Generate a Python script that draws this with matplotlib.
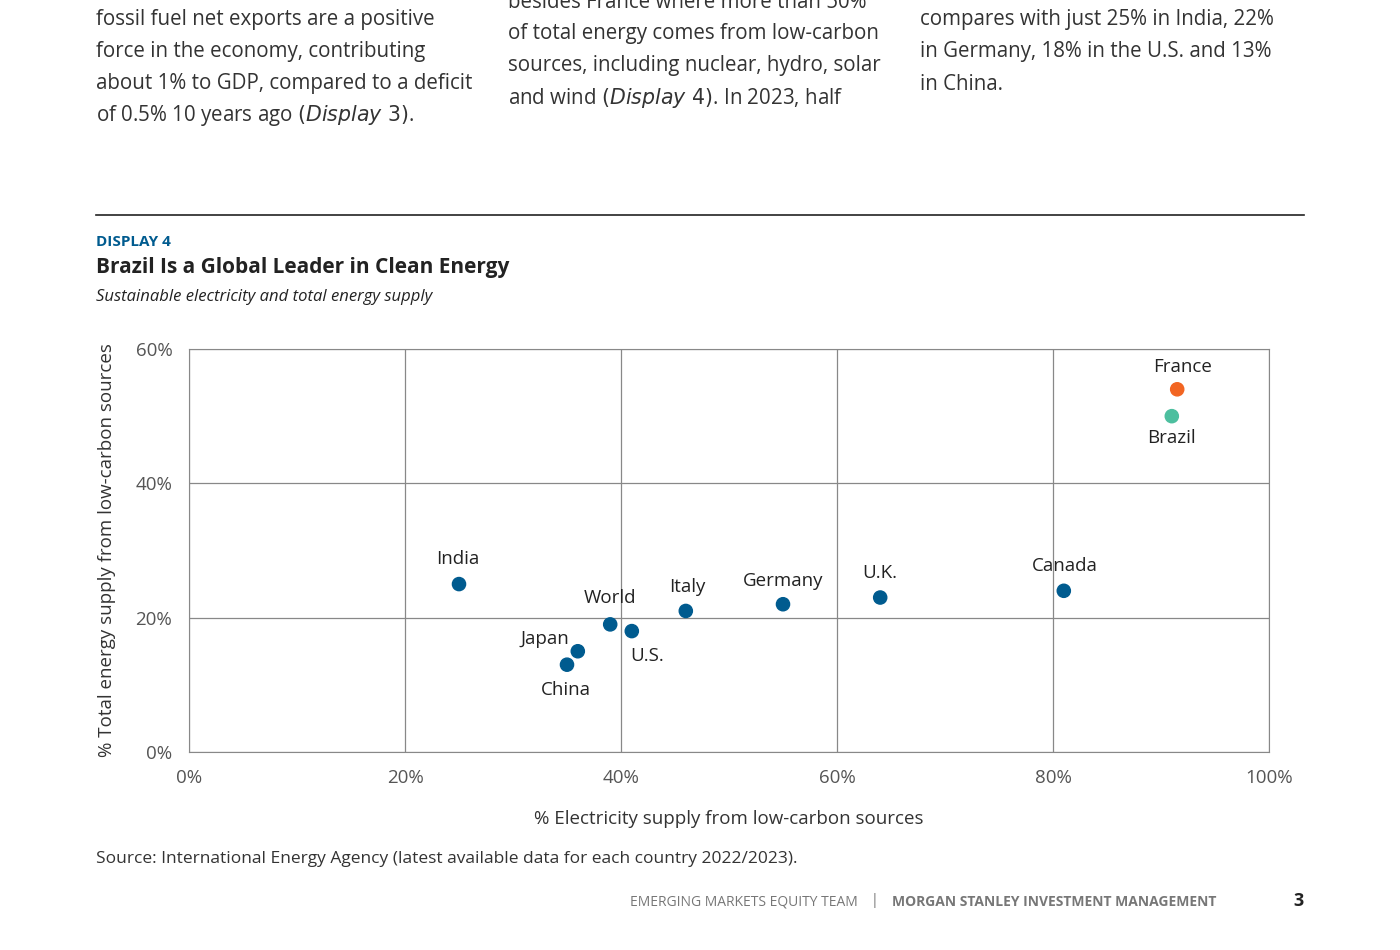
import matplotlib
matplotlib.use('Agg')
from matplotlib import pyplot as plt

plt.rcParams['font.family'] = ['Open Sans', 'DejaVu Sans']

countries = ['India', 'Japan', 'China', 'World', 'U.S.', 'Italy', 'Germany', 'U.K.', 'Canada', 'France', 'Brazil']
electricity = [25, 36, 35, 39, 41, 46, 55, 64, 81, 91.5, 91]
energy = [25, 15, 13, 19, 18, 21, 22, 23, 24, 54, 50]
colors = ['#005b8f'] * 9 + ['#f26522', '#4dbf9f']
# label offsets in points (dx, dy)
offsets = {'India': (-1, 18), 'Japan': (-24, 9), 'China': (-1, -18), 'World': (0, 19),
           'U.S.': (11, -18), 'Italy': (1, 17), 'Germany': (0, 17), 'U.K.': (0, 18),
           'Canada': (1, 18), 'France': (4, 16), 'Brazil': (0, -16)}

fig = plt.figure(figsize=(14, 9.5), dpi=100)
fx = lambda px: px / 1400
fy = lambda py: 1 - py / 950

# body text columns
cols = [(96, ['fossil fuel net exports are a positive', 'force in the economy, contributing',
              'about 1% to GDP, compared to a deficit', 'of 0.5% 10 years ago $\\it{(Display\\ 3)}$.'], 20),
        (508, ['besides France where more than 50%', 'of total energy comes from low-carbon',
               'sources, including nuclear, hydro, solar', 'and wind $\\it{(Display\\ 4)}$. In 2023, half'], 2),
        (920, ['compares with just 25% in India, 22%', 'in Germany, 18% in the U.S. and 13%', 'in China.'], 20)]
for x, lines, y0 in cols:
    for i, line in enumerate(lines):
        fig.text(fx(x), fy(y0 + 32 * i), line, fontsize=14.8, color='#333333', va='center')

fig.add_artist(plt.Line2D([fx(96), fx(1304)], [fy(215), fy(215)], color='#222222', lw=1.2))
fig.text(fx(96), fy(242), 'DISPLAY 4', fontsize=11, color='#005b8f', fontweight='bold', va='center')
fig.text(fx(96), fy(268), 'Brazil Is a Global Leader in Clean Energy', fontsize=15, fontweight='bold', color='#222222', va='center')
fig.text(fx(96), fy(297), 'Sustainable electricity and total energy supply', fontsize=12, style='italic', color='#222222', va='center')

ax = fig.add_axes([fx(189), fy(752), fx(1269 - 189), (752 - 349) / 950])
ax.scatter(electricity, energy, c=colors, s=90, zorder=3)
for name, x, y in zip(countries, electricity, energy):
    dx, dy = offsets[name]
    ax.annotate(name, (x, y), xytext=(dx, dy), textcoords='offset points', ha='center', va='center',
                fontsize=13.5, color='#222222')
ax.set_xlim(0, 100)
ax.set_ylim(0, 60)
ax.set_xticks([0, 20, 40, 60, 80, 100])
ax.set_yticks([0, 20, 40, 60])
ax.set_xticklabels([f'{v}%' for v in [0, 20, 40, 60, 80, 100]])
ax.set_yticklabels([f'{v}%' for v in [0, 20, 40, 60]])
ax.grid(True, color='#888888', lw=0.9)
ax.set_axisbelow(True)
for s in ax.spines.values():
    s.set_color('#888888')
ax.tick_params(length=0, labelsize=13.5, labelcolor='#555555', pad=12)
ax.set_xlabel('% Electricity supply from low-carbon sources', fontsize=13.5, color='#333333', labelpad=17)
ax.set_ylabel('% Total energy supply from low-carbon sources', fontsize=13.5, color='#333333', labelpad=14)

fig.text(fx(96), fy(859), 'Source: International Energy Agency (latest available data for each country 2022/2023).',
         fontsize=12.5, color='#333333', va='center')
fig.text(fx(858), fy(902), 'EMERGING MARKETS EQUITY TEAM', fontsize=10, color='#777777', ha='right', va='center')
fig.text(fx(875), fy(901), '|', fontsize=10, color='#777777', ha='center', va='center')
fig.text(fx(892), fy(902), 'MORGAN STANLEY INVESTMENT MANAGEMENT', fontsize=10, color='#777777',
         fontweight='bold', va='center')
fig.text(fx(1304), fy(901), '3', fontsize=13, color='#222222', fontweight='bold', ha='right', va='center')

fig.savefig('out.png', dpi=100)
